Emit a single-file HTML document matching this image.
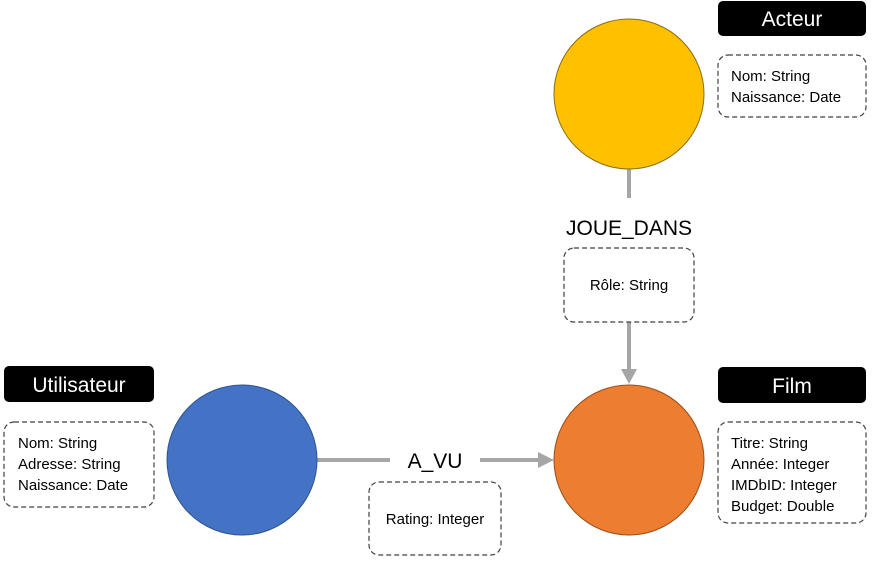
<!DOCTYPE html>
<html><head><style>body{margin:0;background:#fff}</style></head><body>
<svg width="872" height="559" xmlns="http://www.w3.org/2000/svg" font-family="Liberation Sans, sans-serif">
<g stroke="#a6a6a6" stroke-width="4" fill="none">
<line x1="629" y1="169" x2="629" y2="198"/>
<line x1="629" y1="322" x2="629" y2="370"/>
<line x1="317" y1="460" x2="390" y2="460"/>
<line x1="480" y1="460" x2="540" y2="460"/>
</g>
<polygon points="621,369 637,369 629,384" fill="#a6a6a6"/>
<polygon points="538,452 538,468 554,460" fill="#a6a6a6"/>
<circle cx="629" cy="94" r="75" fill="#ffc000" stroke="#8a6d10" stroke-width="1"/>
<circle cx="629" cy="460" r="75" fill="#ed7d31" stroke="#9a4d18" stroke-width="1"/>
<circle cx="242" cy="460" r="75" fill="#4472c4" stroke="#2f528f" stroke-width="1"/>
<g fill="#000">
<rect x="718" y="1" width="148" height="35" rx="5"/>
<rect x="718" y="367" width="148" height="36" rx="5"/>
<rect x="4" y="366" width="150" height="36" rx="5"/>
</g>
<g fill="#fff" font-size="21" text-anchor="middle">
<text x="792" y="26">Acteur</text>
<text x="792" y="393">Film</text>
<text x="79" y="392">Utilisateur</text>
</g>
<g fill="none" stroke="#404040" stroke-width="1.2" stroke-dasharray="5,3">
<rect x="718" y="55" width="148" height="62" rx="10"/>
<rect x="718" y="422" width="148" height="101" rx="10"/>
<rect x="4" y="422" width="150" height="85" rx="10"/>
<rect x="564" y="248" width="130" height="74" rx="10"/>
<rect x="369" y="482" width="132" height="73" rx="10"/>
</g>
<g fill="#000" font-size="15">
<text x="731" y="81">Nom: String</text>
<text x="731" y="102">Naissance: Date</text>
<text x="731" y="448">Titre: String</text>
<text x="731" y="469">Année: Integer</text>
<text x="731" y="490">IMDbID: Integer</text>
<text x="731" y="511">Budget: Double</text>
<text x="18" y="448">Nom: String</text>
<text x="18" y="469">Adresse: String</text>
<text x="18" y="490">Naissance: Date</text>
<text x="629" y="290" text-anchor="middle">Rôle: String</text>
<text x="435" y="524" text-anchor="middle">Rating: Integer</text>
</g>
<g fill="#000" font-size="21" text-anchor="middle">
<text x="629" y="235">JOUE_DANS</text>
<text x="435" y="468">A_VU</text>
</g>
</svg>
</body></html>
